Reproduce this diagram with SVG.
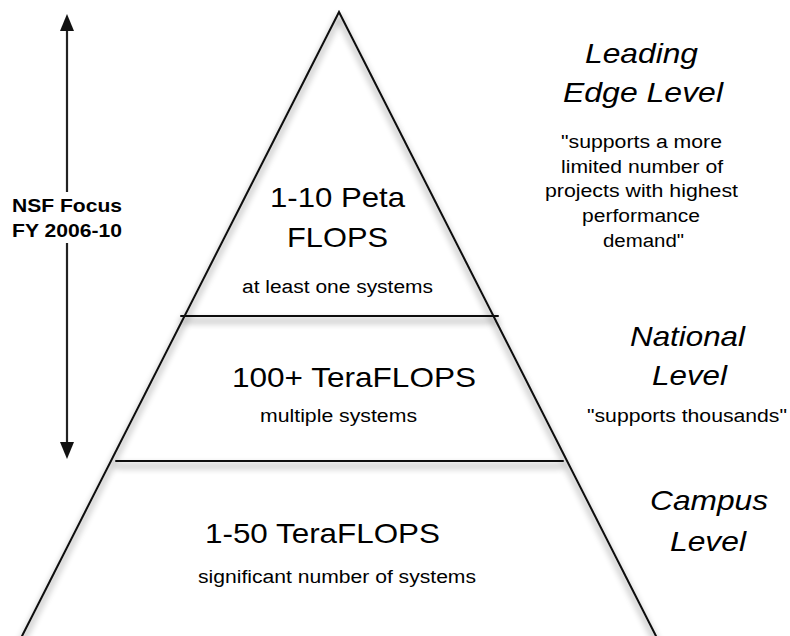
<svg xmlns="http://www.w3.org/2000/svg" width="790" height="636" viewBox="0 0 790 636">
<style>
text{font-family:"Liberation Sans",Arial,sans-serif;fill:#000;text-anchor:start}
.big{font-size:28px}
.small{font-size:18px}
.lvl{font-size:28px;font-style:italic}
.nsf{font-size:19px;font-weight:bold}
.edge{stroke:#111;stroke-width:2;fill:none;stroke-linecap:round}
.conn{stroke:#222;stroke-width:2.2;fill:none}
</style>
<defs>
<filter id="sh" x="-20%" y="-20%" width="140%" height="140%">
<feGaussianBlur in="SourceAlpha" stdDeviation="3.5"/>
<feOffset dx="0" dy="5" result="b"/>
<feComponentTransfer><feFuncA type="linear" slope="0.6"/></feComponentTransfer>
<feMerge><feMergeNode/><feMergeNode in="SourceGraphic"/></feMerge>
</filter>
<marker id="ah" viewBox="0 0 17 14" refX="0" refY="7" markerWidth="17" markerHeight="14" markerUnits="userSpaceOnUse" orient="auto">
<path d="M0,0 L17,7 L0,14 z" fill="#111"/>
</marker>
</defs>
<rect width="790" height="636" fill="#fff"/>
<g id="pyramid" filter="url(#sh)">
<path class="edge" d="M20,640 L339,12 L658,640"/>
<line class="edge" x1="181" y1="316" x2="498" y2="316"/>
<line class="edge" x1="116" y1="461" x2="563" y2="461"/>
</g>
<g id="connectors">
<line class="conn" x1="67" y1="192" x2="67" y2="31" marker-end="url(#ah)"/>
<line class="conn" x1="67" y1="243" x2="67" y2="442" marker-end="url(#ah)"/>
</g>
<g id="nsf-focus">
<text class="nsf" x="12" y="212" textLength="110" lengthAdjust="spacingAndGlyphs">NSF Focus</text>
<text class="nsf" x="12" y="237" textLength="110" lengthAdjust="spacingAndGlyphs">FY 2006-10</text>
</g>
<g id="tier-peta">
<text class="big" x="270" y="207" textLength="135" lengthAdjust="spacingAndGlyphs">1-10 Peta</text>
<text class="big" x="287" y="247" textLength="101" lengthAdjust="spacingAndGlyphs">FLOPS</text>
<text class="small" x="242" y="293" textLength="191" lengthAdjust="spacingAndGlyphs">at least one systems</text>
</g>
<g id="tier-national">
<text class="big" x="232" y="387" textLength="244" lengthAdjust="spacingAndGlyphs">100+ TeraFLOPS</text>
<text class="small" x="260" y="422" textLength="157" lengthAdjust="spacingAndGlyphs">multiple systems</text>
</g>
<g id="tier-campus">
<text class="big" x="205" y="543" textLength="235" lengthAdjust="spacingAndGlyphs">1-50 TeraFLOPS</text>
<text class="small" x="198" y="583" textLength="278" lengthAdjust="spacingAndGlyphs">significant number of systems</text>
</g>
<g id="label-leading">
<text class="lvl" x="585" y="63" textLength="113" lengthAdjust="spacingAndGlyphs">Leading</text>
<text class="lvl" x="563" y="102" textLength="160" lengthAdjust="spacingAndGlyphs">Edge Level</text>
<text class="small" x="561" y="148" textLength="161" lengthAdjust="spacingAndGlyphs">"supports a more</text>
<text class="small" x="561" y="173" textLength="162" lengthAdjust="spacingAndGlyphs">limited number of</text>
<text class="small" x="545" y="197" textLength="193" lengthAdjust="spacingAndGlyphs">projects with highest</text>
<text class="small" x="582" y="222" textLength="118" lengthAdjust="spacingAndGlyphs">performance</text>
<text class="small" x="603" y="247" textLength="81" lengthAdjust="spacingAndGlyphs">demand"</text>
</g>
<g id="label-national">
<text class="lvl" x="630" y="346" textLength="115" lengthAdjust="spacingAndGlyphs">National</text>
<text class="lvl" x="652" y="385" textLength="75" lengthAdjust="spacingAndGlyphs">Level</text>
<text class="small" x="587" y="422" textLength="200" lengthAdjust="spacingAndGlyphs">"supports thousands"</text>
</g>
<g id="label-campus">
<text class="lvl" x="650" y="510" textLength="118" lengthAdjust="spacingAndGlyphs">Campus</text>
<text class="lvl" x="670" y="551" textLength="76" lengthAdjust="spacingAndGlyphs">Level</text>
</g>
</svg>
